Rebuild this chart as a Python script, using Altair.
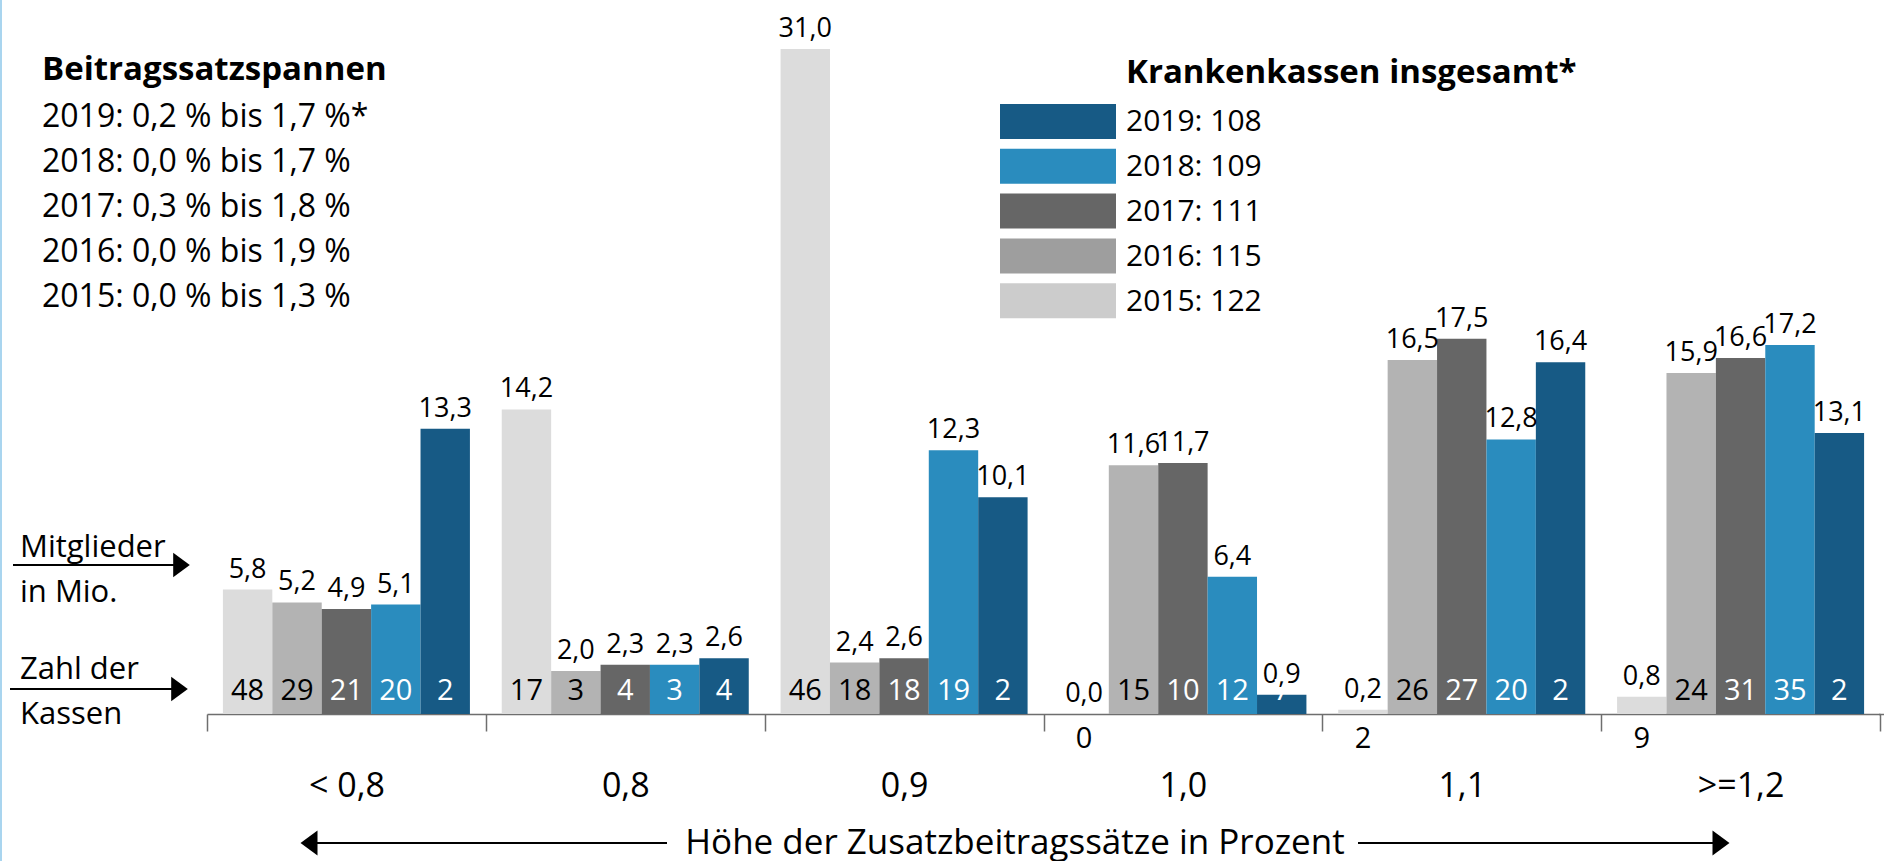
import altair as alt
import pandas as pd

FONT = "Open Sans"

groups = ["< 0,8", "0,8", "0,9", "1,0", "1,1", ">=1,2"]
years = ["2015", "2016", "2017", "2018", "2019"]

members = {
    "2015": [5.8, 14.2, 31.0, 0.0, 0.2, 0.8],
    "2016": [5.2, 2.0, 2.4, 11.6, 16.5, 15.9],
    "2017": [4.9, 2.3, 2.6, 11.7, 17.5, 16.6],
    "2018": [5.1, 2.3, 12.3, 6.4, 12.8, 17.2],
    "2019": [13.3, 2.6, 10.1, 0.9, 16.4, 13.1],
}
counts = {
    "2015": [48, 17, 46, 0, 2, 9],
    "2016": [29, 3, 18, 15, 26, 24],
    "2017": [21, 4, 18, 10, 27, 31],
    "2018": [20, 3, 19, 12, 20, 35],
    "2019": [2, 4, 2, 7, 2, 2],
}
bar_colors = ["#dcdcdc", "#b3b3b3", "#666666", "#2a8cbe", "#175a85"]

legend_years = ["2019", "2018", "2017", "2016", "2015"]
legend_totals = [108, 109, 111, 115, 122]
legend_colors = ["#175a85", "#2a8cbe", "#666666", "#9e9e9e", "#cccccc"]
legend_title = "Krankenkassen insgesamt*"

range_title = "Beitragssatzspannen"
range_lines = [
    "2019: 0,2 % bis 1,7 %*",
    "2018: 0,0 % bis 1,7 %",
    "2017: 0,3 % bis 1,8 %",
    "2016: 0,0 % bis 1,9 %",
    "2015: 0,0 % bis 1,3 %",
]
x_title = "Höhe der Zusatzbeitragssätze in Prozent"

rows = []
for y in years:
    for g, v, n in zip(groups, members[y], counts[y]):
        rows.append({"group": g, "year": y, "v": v, "n": n})
df = pd.DataFrame(rows)

leg_df = pd.DataFrame({
    "year": legend_years,
    "label": [f"{y}: {t}" for y, t in zip(legend_years, legend_totals)],
})

# layout (pixels)
LEFT = 207
W = 1673
H = 714
YMAX = 714 / 21.45

x_enc = alt.X(
    "group:N", sort=groups,
    scale=alt.Scale(domain=groups, paddingInner=0, paddingOuter=0),
    axis=alt.Axis(title=None, labelAngle=0, labelFontSize=34, labelFont=FONT,
                  labelColor="black", labelPadding=38, tickSize=17,
                  tickBand="extent", tickColor="#6e6e6e", tickWidth=1.5,
                  domainColor="#6e6e6e", domainWidth=1.5, grid=False),
)
xo_enc = alt.XOffset("year:N", sort=years,
                     scale=alt.Scale(domain=years, paddingInner=0, paddingOuter=0.322))
y_enc = alt.Y("v:Q", scale=alt.Scale(domain=[0, YMAX], nice=False), axis=None)

base = alt.Chart(df).encode(x=x_enc, xOffset=xo_enc)

bars = base.mark_bar().encode(
    y=y_enc,
    color=alt.Color("year:N", scale=alt.Scale(domain=years, range=bar_colors), legend=None),
)

val_labels = base.transform_calculate(
    lbl="replace(format(datum.v, '.1f'), '.', ',')"
).mark_text(baseline="alphabetic", dy=-12, fontSize=27, font=FONT, color="black").encode(
    y=y_enc, text="lbl:N"
)

cnt_in = base.transform_filter(
    "!(datum.year == '2015' && datum.v < 1)"
).transform_calculate(
    tc="(datum.year == '2015' || datum.year == '2016') ? 'black' : 'white'"
).mark_text(baseline="alphabetic", fontSize=29, font=FONT).encode(
    y=alt.value(700), text="n:N", fill=alt.Fill("tc:N", scale=None)
)

cnt_below = base.transform_filter(
    "datum.year == '2015' && datum.v < 1"
).mark_text(baseline="alphabetic", fontSize=29, font=FONT, color="black").encode(
    y=alt.value(748), text="n:N"
)

main = alt.layer(bars, val_labels, cnt_in, cnt_below)

# legend
leg_y = alt.Y("year:N", sort=legend_years,
              scale=alt.Scale(domain=legend_years, range=[104, 318.2],
                              paddingInner=0.219, paddingOuter=0),
              axis=None)
leg_rect = alt.Chart(leg_df).mark_rect().encode(
    y=leg_y, x=alt.value(1000 - LEFT), x2=alt.value(1116 - LEFT),
    color=alt.Color("year:N", scale=alt.Scale(domain=legend_years, range=legend_colors), legend=None),
)
leg_text = alt.Chart(leg_df).mark_text(align="left", baseline="middle", fontSize=30,
                                       font=FONT, color="black", dy=1).encode(
    y=leg_y, x=alt.value(1126 - LEFT), text="label:N"
)
legend = alt.layer(leg_rect, leg_text)

one = pd.DataFrame({"a": [0]})

def txt(text, x, y, size, bold=False, align="left", lh=None, baseline="alphabetic"):
    kw = dict(text=text, align=align, baseline=baseline, fontSize=size, font=FONT,
              color="black", fontWeight="bold" if bold else "normal")
    if lh is not None:
        kw["lineHeight"] = lh
    return alt.Chart(one).mark_text(**kw).encode(x=alt.value(x - LEFT), y=alt.value(y))

def hline(x1, x2, y, w=2, color="black"):
    return alt.Chart(one).mark_rule(color=color, strokeWidth=w).encode(
        x=alt.value(x1 - LEFT), x2=alt.value(x2 - LEFT), y=alt.value(y))

RIGHT_HEAD = "M-0.68,-1L0.68,0L-0.68,1Z"
LEFT_HEAD = "M0.68,-1L-0.68,0L0.68,1Z"

def head(shape, xc, y, size=625):
    return alt.Chart(one).mark_point(shape=shape, filled=True, color="black",
                                     opacity=1, size=size, strokeWidth=0).encode(
        x=alt.value(xc - LEFT), y=alt.value(y))

annots = [
    txt(range_title, 42, 80, 33, bold=True),
    txt(range_lines, 42, 127, 32, lh=45),
    txt(legend_title, 1126, 83, 33, bold=True),
    txt(["Mitglieder", "in Mio."], 20, 557, 31, lh=45),
    txt(["Zahl der", "Kassen"], 20, 679, 31, lh=45),
    hline(13, 175, 565),
    head(RIGHT_HEAD, 181.5, 565, 600),
    hline(10, 173, 689),
    head(RIGHT_HEAD, 179.5, 689, 600),
    txt(x_title, 1015, 843, 35, align="center", baseline="middle"),
    hline(316, 667, 843),
    head(LEFT_HEAD, 309, 843, 625),
    hline(1358, 1713, 843),
    head(RIGHT_HEAD, 1721, 843, 625),
    hline(1879, 1884, 714.5, w=1.5, color="#6e6e6e"),
    alt.Chart(one).mark_rule(color="#a9d5ef", strokeWidth=2).encode(
        x=alt.value(1 - LEFT), y=alt.value(0), y2=alt.value(861)),
]

chart = alt.layer(main, legend, *annots).resolve_scale(
    y="independent", color="independent"
).properties(
    width=W, height=H,
    padding={"left": LEFT, "top": 0, "right": 4, "bottom": 147},
    autosize="none",
    background="white",
).configure_view(stroke=None)

chart.save("out.html", embed_options={"renderer": "svg", "actions": False})
